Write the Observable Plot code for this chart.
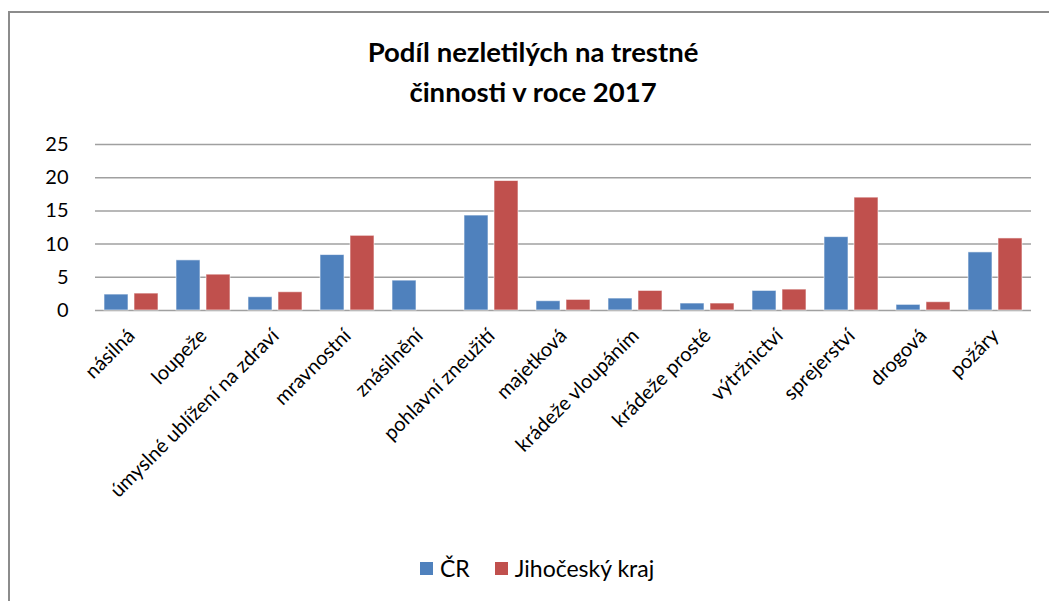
<!DOCTYPE html>
<html>
<head>
<meta charset="utf-8">
<script src="https://cdn.jsdelivr.net/npm/d3@7"></script>
<script src="https://cdn.jsdelivr.net/npm/@observablehq/plot@0.6"></script>
<style>
  html, body { margin: 0; padding: 0; background: #fff; }
  #wrap { position: relative; width: 1049px; height: 601px; overflow: hidden; font-family: Lato, "Open Sans", sans-serif; }
  #frame { position: absolute; left: 8px; top: 11px; width: 1060px; height: 620px; border-top: 2px solid #8c8c8c; border-left: 2px solid #8c8c8c; box-sizing: border-box; }
  #title { position: absolute; left: 0; width: 1066px; top: 32px; text-align: center; font-weight: bold; font-size: 27.5px; line-height: 40px; color: #000; }
  #chart { position: absolute; left: 0; top: 0; }
  #legend { position: absolute; top: 554px; left: 420px; font-size: 23px; color: #000; display: flex; align-items: center; white-space: nowrap; }
  .sw { display: inline-block; width: 13px; height: 13px; margin-right: 7px; }
</style>
</head>
<body>
<div id="wrap">
  <div id="frame"></div>
  <div id="title">Podíl nezletilých na trestné<br>činnosti v roce 2017</div>
  <div id="chart"></div>
  <div id="legend"></div>
</div>
<script>
const categories = ["násilná", "loupeže", "úmyslné ublížení na zdraví", "mravnostní", "znásilnění", "pohlavní zneužití", "majetková", "krádeže vloupáním", "krádeže prosté", "výtržnictví", "sprejerství", "drogová", "požáry"];
const seriesNames = ["ČR", "Jihočeský kraj"];
const valuesCR = [2.4, 7.55, 2.0, 8.35, 4.5, 14.3, 1.4, 1.8, 1.05, 2.95, 11.05, 0.85, 8.75];
const valuesJC = [2.55, 5.4, 2.75, 11.25, 0, 19.5, 1.6, 2.95, 1.05, 3.15, 17.0, 1.25, 10.85];
const colors = ["#4F81BD", "#C0504D"];
const yTicks = [0, 5, 10, 15, 20, 25];

const data = [];
categories.forEach((c, i) => {
  data.push({category: c, series: seriesNames[0], value: valuesCR[i]});
  data.push({category: c, series: seriesNames[1], value: valuesJC[i]});
});

const chart = Plot.plot({
  width: 1049,
  height: 601,
  marginTop: 144,
  marginBottom: 291,
  marginLeft: 92,
  marginRight: 16,
  style: {fontFamily: "Lato, 'Open Sans', sans-serif", fontSize: "20px", color: "#000", background: "transparent"},
  fx: {domain: categories, padding: 0, axis: "bottom", tickRotate: -45, tickSize: 0, tickPadding: 22, label: null},
  x: {domain: seriesNames, paddingInner: 0.2, paddingOuter: 0.3, axis: null},
  y: {domain: [0, 25], ticks: yTicks, tickSize: 0, tickPadding: 27, label: null},
  color: {domain: seriesNames, range: colors},
  marks: [
    Plot.ruleY(yTicks, {stroke: "#a0a0a0", strokeWidth: 1.5}),
    Plot.barY(data, {fx: "category", x: "series", y: "value", fill: "series", stroke: "#ffffff", strokeOpacity: 0.6, strokeWidth: 1, inset: 0})
  ]
});
document.getElementById("chart").appendChild(chart);

const legend = document.getElementById("legend");
seriesNames.forEach((s, i) => {
  const item = document.createElement("span");
  item.style.display = "inline-flex";
  item.style.alignItems = "center";
  item.style.marginRight = i === 0 ? "25px" : "0";
  const sw = document.createElement("span");
  sw.className = "sw";
  sw.style.background = colors[i];
  item.appendChild(sw);
  item.appendChild(document.createTextNode(s));
  legend.appendChild(item);
});
</script>
</body>
</html>
